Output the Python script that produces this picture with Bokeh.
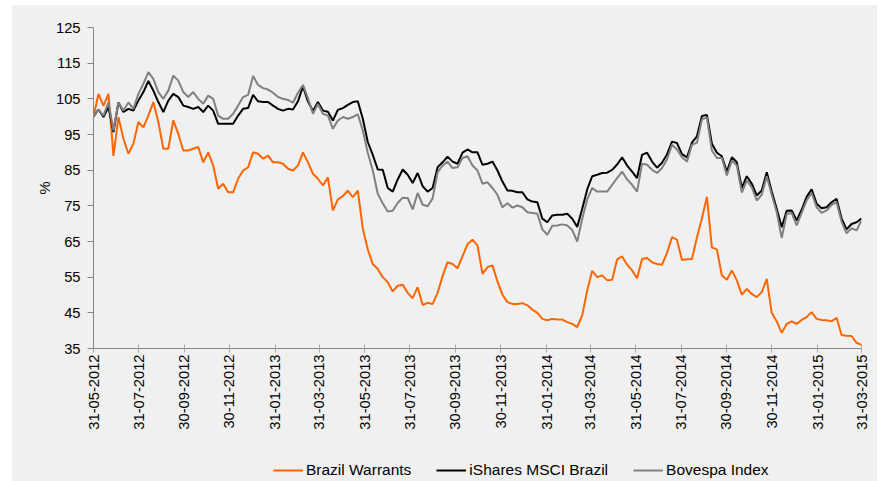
import pandas as pd
from bokeh.plotting import figure
from bokeh.layouts import row, column
from bokeh.models import Range1d, FixedTicker, DatetimeTickFormatter, Legend, LegendItem, Spacer
from bokeh.embed import file_html
from bokeh.resources import INLINE

start_date = "2012-05-31"
end_date = "2015-03-31"

warrants = [100, 106.4, 103, 106.4, 89, 99.9, 93.8, 89.6, 92.4, 98.5, 97, 100.3, 104.1, 98.5, 91, 91, 99, 95.2, 90.5, 90.5, 91, 91.5, 87.2, 90, 86.3, 79.8,
            81.2, 78.8, 78.8, 82.6, 84.9, 85.8, 90, 89.6, 88.2, 89.1, 87.2, 87.2, 86.8, 85.4, 84.9, 86.3, 90, 87.2, 84, 82.6, 80.7, 83, 73.7, 76.8, 77.7,
            79.3, 77.4, 79.3, 68.6, 62.8, 58.7, 57.3, 55, 53.6, 51, 52.6, 52.9, 50.6, 49.1, 52.2, 47.2, 47.8, 47.5, 50.6, 55.3, 59.2, 58.7, 57.5, 60.9, 64.2,
            65.5, 63.9, 55.9, 57.8, 58.3, 53.8, 50.1, 48, 47.5, 47.5, 47.7, 47.1, 45.9, 45, 43.3, 42.9, 43.3, 43.1, 43.1, 42.4, 41.9, 41, 44.3, 51.3, 56.8,
            55, 55.5, 54.1, 54.3, 60, 60.8, 58.5, 56.9, 54.7, 60.1, 60.4, 59.2, 58.7, 58.5, 61.8, 66.2, 65.5, 59.8, 60, 60.1, 66.1, 71.5, 77.5, 63.3, 62.8,
            55.5, 54.3, 56.9, 54.1, 50.1, 51.7, 50.3, 49.4, 50.8, 54.5, 45, 42.6, 39.4, 41.9, 42.6, 41.9, 43, 43.8, 45.2, 43.3, 43, 42.9, 42.6, 43.6, 38.8, 38.6, 38.5, 36.6, 36]

ishares = [100, 102, 99.9, 102.7, 95.7, 104, 101.3, 102.2, 101.7, 104.5, 106.9, 110, 107.3, 104.1, 101.3, 104.5, 106.4, 105.5, 103.1, 102.7, 102.2, 102.7, 101.3, 103.1, 101.7, 98,
           98, 98, 98, 100.3, 102.2, 102.4, 106.1, 104.3, 104.1, 104.1, 103.1, 102.2, 101.7, 102.2, 102, 104.3, 108.5, 104.3, 101.6, 104.1, 101.7, 101.4, 98.9, 101.9, 102.4,
           103.3, 104.1, 104.3, 99.4, 92.9, 89.3, 85.2, 85.1, 80, 79, 82.4, 85.2, 83.7, 81.4, 84.2, 80.5, 79, 80, 85.8, 87.2, 88.8, 87.4, 86.8, 89.9, 90.8,
           90, 90, 86.5, 86.8, 87.4, 84.9, 81.8, 79.3, 79.2, 78.8, 78.8, 76.8, 76.2, 76, 71.4, 70.4, 72.3, 72.5, 72.5, 72.8, 71.4, 69.1, 74.2, 79.6, 83.3,
           83.7, 84.2, 84.3, 85.1, 86.6, 88.6, 86.3, 84.6, 82.8, 89.3, 89.9, 87.4, 85.7, 87.1, 89.4, 93, 92.6, 89.5, 88.6, 92.7, 94.5, 100.2, 100.5, 92.4, 89.9,
           88.9, 84.6, 88.6, 87.2, 80, 83.3, 81.2, 77.9, 79.3, 84.4, 79, 74.2, 69, 73.6, 73.7, 70.9, 73.9, 77.5, 79.6, 75.6, 74.3, 74.6, 76, 77, 71.5, 68.4, 69.9, 70.4, 71.4]

bovespa = [100, 102, 100.3, 104, 96.1, 104, 101.7, 104, 102.2, 106.4, 109.2, 112.5, 110.6, 106.9, 105, 107.3, 111.5, 110.1, 106.9, 105.5, 106.9, 105, 103.6, 105.9, 105, 100.3,
           99.4, 99.4, 100.8, 103.1, 105.5, 106.1, 111.4, 108.9, 108, 107.6, 106.7, 105.5, 105, 104.7, 103.9, 106.7, 108.9, 105.2, 100.8, 103.6, 100.8, 100.3, 96.6, 98.9, 99.9,
           99.4, 99.9, 100.7, 96.1, 89.9, 84.9, 78.4, 75.7, 73.4, 73.6, 75.8, 77.3, 77.2, 74, 78.6, 75.3, 74.9, 77.1, 84.4, 86.3, 87.4, 85.6, 85.8, 88.4, 88.9,
           86.3, 84.9, 81.2, 81.6, 80, 78.1, 74.6, 75.7, 74.5, 75.1, 74.6, 73.2, 73, 72.8, 68.4, 66.9, 69.4, 69.5, 69.8, 69.5, 68.2, 65, 71.4, 76.8, 80,
           79, 79, 79, 80.9, 82.8, 84.6, 82.4, 80.9, 79, 86.8, 86.5, 85.1, 84.2, 85.6, 88, 92.1, 90.8, 88.6, 87.4, 92.1, 92.7, 99.2, 99.8, 90.5, 88.4,
           88.4, 83.5, 87.7, 86.3, 78.7, 82.1, 80.2, 76.5, 78.1, 83.3, 78.1, 73.2, 66, 72.7, 73, 69.5, 73, 76.5, 78.6, 74.6, 73, 73.7, 75.3, 76, 70.6, 67.3, 68.7, 68.1, 70.9]

x_tick_labels = ["31-05-2012", "31-07-2012", "30-09-2012", "30-11-2012", "31-01-2013", "31-03-2013",
                 "31-05-2013", "31-07-2013", "30-09-2013", "30-11-2013", "31-01-2014", "31-03-2014",
                 "31-05-2014", "31-07-2014", "30-09-2014", "30-11-2014", "31-01-2015", "31-03-2015"]
y_ticks = [35, 45, 55, 65, 75, 85, 95, 105, 115, 125]
series_names = ["Brazil Warrants", "iShares MSCI Brazil", "Bovespa Index"]
series_colors = ["#ff6600", "#000000", "#808080"]

# ---- build ----
dates = pd.date_range(start_date, end_date, periods=len(warrants))
tick_ms = [int(pd.Timestamp(d).value // 10**6) for d in pd.to_datetime(x_tick_labels, format="%d-%m-%Y")]

BG = "#f0f0f0"
FONT = "Liberation Sans"
FS = "14.7px"

p = figure(width=865, height=443, x_axis_type="datetime", output_backend="svg", toolbar_location=None,
           x_range=Range1d(pd.Timestamp(start_date), pd.Timestamp(end_date)),
           y_range=Range1d(y_ticks[0], y_ticks[-1]),
           min_border_left=81, min_border_right=16, min_border_top=22, min_border_bottom=100)
p.background_fill_color = BG
p.border_fill_color = BG
p.outline_line_color = None
p.xgrid.grid_line_color = None
p.ygrid.grid_line_color = None

for vals, col in zip([warrants, ishares, bovespa], series_colors):
    p.line(dates, vals, line_color=col, line_width=2)

xa = p.xaxis[0]
xa.ticker = FixedTicker(ticks=tick_ms)
fmt = "%d-%m-%Y"
xa.formatter = DatetimeTickFormatter(milliseconds=fmt, seconds=fmt, minsec=fmt, minutes=fmt, hourmin=fmt,
                                     hours=fmt, days=fmt, months=fmt, years=fmt)
xa.major_label_orientation = 3.14159265 / 2
xa.axis_line_color = "#868686"
xa.major_tick_line_color = "#a6a6a6"
xa.major_tick_in = 4
xa.major_tick_out = 4
xa.minor_tick_line_color = None
xa.major_label_standoff = 2
xa.major_label_text_font = FONT
xa.major_label_text_font_size = FS
xa.major_label_text_color = "#000000"

ya = p.yaxis[0]
ya.ticker = FixedTicker(ticks=y_ticks)
ya.axis_line_color = "#868686"
ya.major_tick_line_color = "#868686"
ya.major_tick_in = 0
ya.major_tick_out = 6
ya.minor_tick_line_color = None
ya.major_label_standoff = 7
ya.major_label_text_font = FONT
ya.major_label_text_font_size = FS
ya.major_label_text_color = "#000000"
ya.axis_label = "%"
ya.axis_label_text_font = FONT
ya.axis_label_text_font_style = "normal"
ya.axis_label_text_font_size = FS
ya.axis_label_text_color = "#000000"
ya.axis_label_standoff = 0

# ---- legend strip below the chart (keys are data-less line renderers) ----
pl = figure(width=865, height=33, output_backend="svg", toolbar_location=None,
            x_range=Range1d(0, 1), y_range=Range1d(0, 1),
            x_axis_location=None, y_axis_location=None, min_border=0)
pl.background_fill_color = None
pl.border_fill_color = None
pl.outline_line_color = None
pl.xgrid.grid_line_color = None
pl.ygrid.grid_line_color = None
nan = float("nan")
keys = [pl.line([nan], [nan], line_color=c, line_width=2) for c in series_colors]
legend = Legend(items=[LegendItem(label=n, renderers=[k]) for n, k in zip(series_names, keys)],
                location=(180, 1), orientation="horizontal",
                glyph_width=30, glyph_height=20, label_standoff=3, spacing=25,
                padding=0, margin=0, background_fill_alpha=0, border_line_alpha=0,
                label_text_font=FONT, label_text_font_size="15.5px", label_text_color="#000000")
pl.add_layout(legend)

panel = column(p, pl, styles={"background-color": BG})
layout = row(Spacer(width=12, height=476), column(Spacer(width=865, height=5), panel))

open("out.html", "w").write(file_html(layout, INLINE))
